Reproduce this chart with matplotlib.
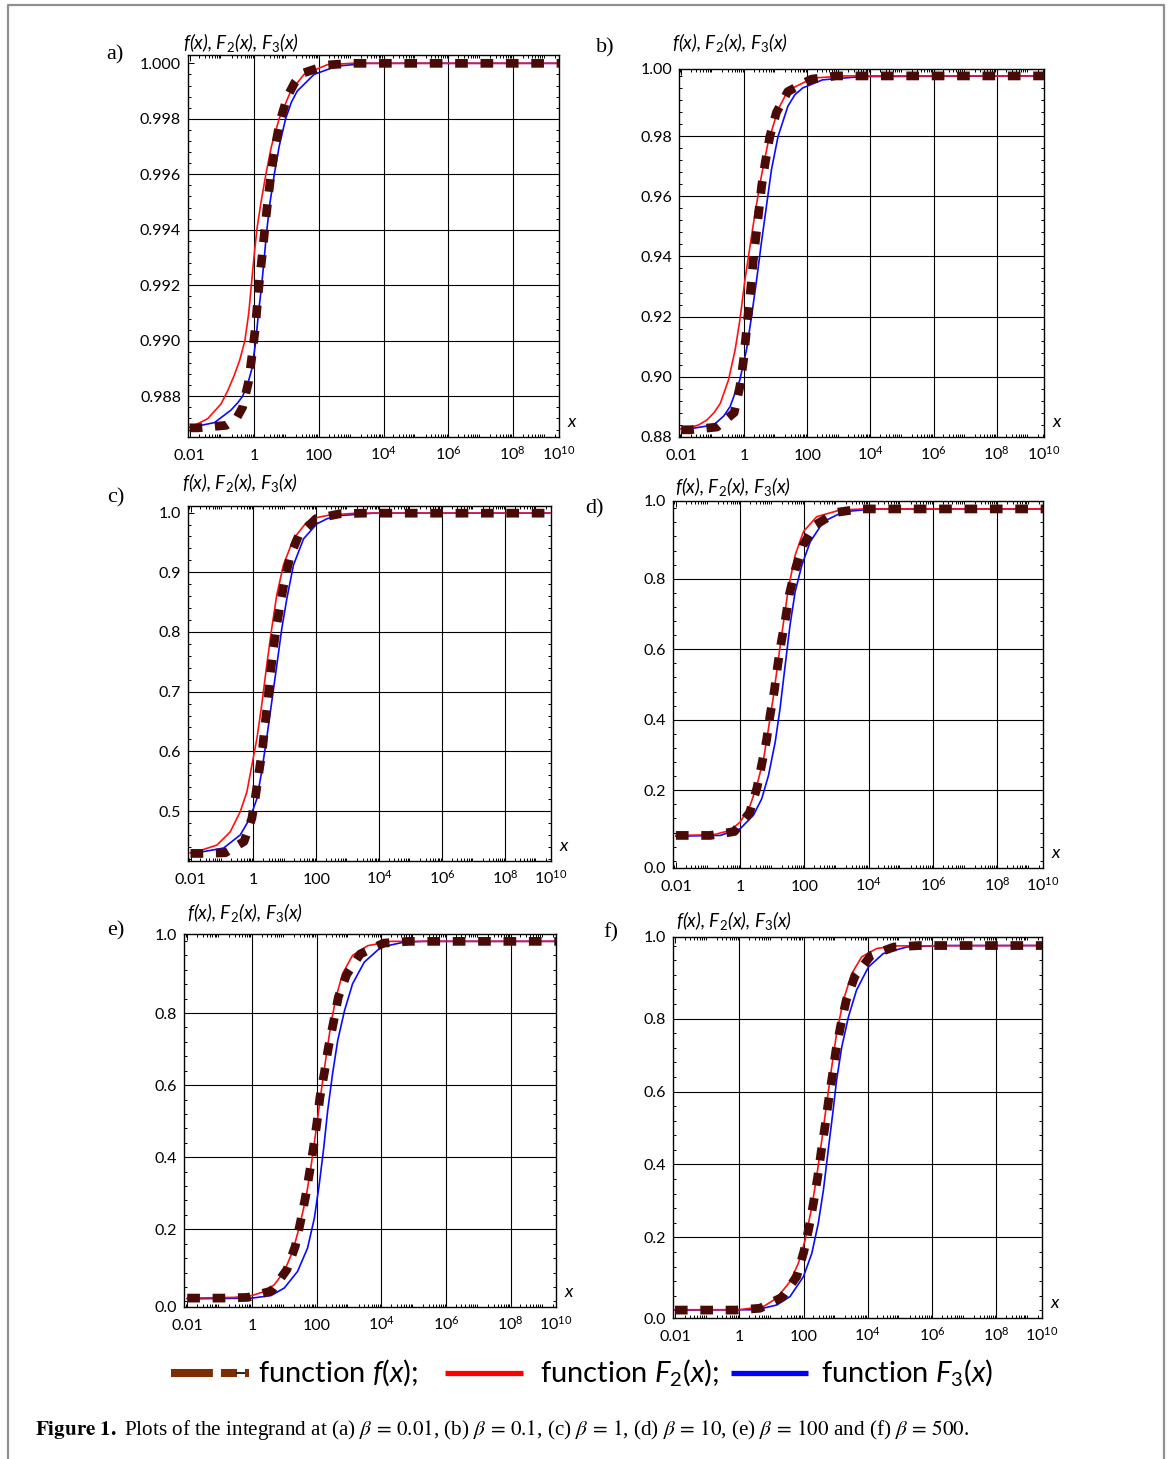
import numpy as np
import matplotlib.pyplot as plt
from matplotlib.lines import Line2D
from matplotlib.ticker import LogLocator, MultipleLocator, NullFormatter

plt.rcParams['font.family'] = ['Lato', 'DejaVu Sans']
plt.rcParams['mathtext.fontset'] = 'custom'
plt.rcParams['mathtext.rm'] = 'Lato'
plt.rcParams['mathtext.it'] = 'Lato:italic'
plt.rcParams['mathtext.bf'] = 'Lato:bold'

# ---- data (x given as log10 x) ----
# (a) beta = 0.01
a_F2_lx = [-2.0, -1.85, -1.44, -1.03, -0.82, -0.62, -0.45, -0.29, -0.17, -0.09, -0.01, 0.08, 0.21, 0.36,
           0.53, 0.77, 1.13, 1.54, 2.26, 3.0, 9.43]
a_F2 = [0.98690, 0.98695, 0.98719, 0.98772, 0.98820, 0.98875, 0.98930, 0.99000, 0.99100, 0.99200, 0.99300,
        0.99400, 0.99500, 0.99600, 0.99700, 0.99800, 0.99900, 0.99960, 0.99995, 1.0, 1.0]
a_F3_lx = [-2.0, -1.85, -1.23, -0.72, -0.50, -0.36, -0.20, -0.07, 0.05, 0.13, 0.23, 0.31, 0.39, 0.49, 0.62,
           0.77, 0.97, 1.15, 1.33, 1.85, 2.56, 3.5, 9.43]
a_F3 = [0.98688, 0.98690, 0.98705, 0.98750, 0.98778, 0.98800, 0.98845, 0.98900, 0.99000, 0.99100, 0.99200,
        0.99300, 0.99400, 0.99500, 0.99600, 0.99700, 0.99800, 0.99860, 0.99900, 0.99960, 0.99990, 1.0, 1.0]
a_f_lx = [-2.0, -1.74, -0.87, -0.55, -0.36, -0.18, -0.07, 0.03, 0.10, 0.17, 0.26, 0.34, 0.43, 0.53, 0.65,
          0.80, 1.03, 1.25, 1.49, 2.26, 3.0, 9.43]
a_f = [0.98686, 0.98686, 0.98695, 0.98720, 0.98760, 0.98850, 0.98946, 0.99042, 0.99138, 0.99228, 0.99324,
       0.99419, 0.99515, 0.99611, 0.99701, 0.99793, 0.99881, 0.99930, 0.99964, 0.99994, 1.0, 1.0]

# (b) beta = 0.1
b_F2_lx = [-2.0, -1.81, -1.45, -1.18, -0.95, -0.76, -0.50, -0.29, -0.14, 0.02, 0.18, 0.34, 0.54, 0.75,
           1.07, 1.30, 1.54, 2.17, 3.21, 9.5]
b_F2 = [0.8828, 0.8829, 0.8840, 0.8857, 0.8882, 0.8912, 0.8990, 0.9090, 0.9189, 0.9322, 0.9433, 0.9544,
        0.9666, 0.9777, 0.9888, 0.9935, 0.9960, 0.9993, 1.0, 1.0]
b_F3_lx = [-2.0, -1.81, -0.97, -0.65, -0.45, -0.14, 0.07, 0.23, 0.39, 0.54, 0.70, 0.86, 1.07, 1.38, 1.60,
           1.85, 2.48, 3.74, 9.5]
b_F3 = [0.8826, 0.8826, 0.8840, 0.8870, 0.8901, 0.8990, 0.9090, 0.9201, 0.9322, 0.9444, 0.9566, 0.9688,
        0.9799, 0.9899, 0.9937, 0.9960, 0.9987, 0.9998, 1.0]
b_f_lx = [-2.0, -1.71, -0.87, -0.32, -0.14, -0.03, 0.05, 0.13, 0.21, 0.28, 0.37, 0.46, 0.55, 0.67, 0.81,
          1.02, 1.38, 2.12, 2.90, 9.5]
b_f = [0.8824, 0.8824, 0.8833, 0.8881, 0.8968, 0.9051, 0.9134, 0.9217, 0.9300, 0.9383, 0.9467, 0.9550,
       0.9635, 0.9716, 0.9799, 0.9879, 0.9948, 0.9989, 1.0, 1.0]

# (c) beta = 1
c_F2_lx = [-2.0, -1.80, -1.16, -0.74, -0.42, -0.21, -0.05, 0.11, 0.26, 0.42, 0.58, 0.74, 0.95, 1.27, 1.69,
           2.05, 2.43, 3.28, 9.45]
c_F2 = [0.430, 0.432, 0.443, 0.465, 0.499, 0.532, 0.577, 0.622, 0.677, 0.744, 0.806, 0.862, 0.912, 0.956,
        0.984, 0.992, 0.996, 0.999, 0.999]
c_F3_lx = [-2.0, -1.80, -0.95, -0.42, -0.11, 0.11, 0.26, 0.42, 0.58, 0.74, 0.90, 1.06, 1.27, 1.59, 2.01,
           2.35, 2.75, 3.81, 9.45]
c_F3 = [0.430, 0.430, 0.438, 0.460, 0.488, 0.521, 0.566, 0.622, 0.683, 0.744, 0.806, 0.856, 0.912, 0.956,
        0.981, 0.990, 0.995, 0.999, 0.999]
c_f_lx = [-2.0, -1.69, -0.90, -0.30, -0.05, 0.07, 0.18, 0.29, 0.37, 0.46, 0.53, 0.62, 0.72, 0.85, 0.99,
          1.16, 1.43, 1.99, 2.75, 3.49, 9.45]
c_f = [0.429, 0.429, 0.430, 0.449, 0.488, 0.527, 0.567, 0.606, 0.647, 0.686, 0.727, 0.767, 0.806, 0.846,
       0.887, 0.926, 0.961, 0.990, 0.998, 0.999, 0.999]

# (d) beta = 10
d_F2_lx = [-2.0, -1.87, -0.83, -0.31, 0.0, 0.31, 0.52, 0.73, 0.88, 1.04, 1.19, 1.35, 1.50, 1.71, 1.97,
           2.38, 3.11, 3.83, 9.42]
d_F2 = [0.072, 0.072, 0.074, 0.086, 0.110, 0.157, 0.214, 0.290, 0.375, 0.470, 0.574, 0.678, 0.773, 0.867,
        0.934, 0.976, 0.995, 0.998, 0.998]
d_F3_lx = [-2.0, -1.87, -0.62, 0.0, 0.41, 0.67, 0.88, 1.09, 1.24, 1.40, 1.55, 1.71, 1.92, 2.18, 2.59, 3.21,
           4.15, 9.42]
d_F3 = [0.070, 0.070, 0.072, 0.091, 0.129, 0.176, 0.242, 0.337, 0.432, 0.555, 0.668, 0.763, 0.839, 0.905,
        0.962, 0.990, 0.998, 0.998]
d_f_lx = [-2.0, -1.76, -0.93, -0.18, 0.29, 0.52, 0.67, 0.82, 0.93, 1.06, 1.16, 1.27, 1.41, 1.53, 1.71,
          1.95, 2.33, 2.98, 3.73, 9.42]
d_f = [0.072, 0.072, 0.072, 0.083, 0.136, 0.206, 0.273, 0.342, 0.413, 0.481, 0.550, 0.616, 0.687, 0.756,
       0.825, 0.894, 0.952, 0.988, 0.998, 0.998]

# (e) beta = 100
e_F2_lx = [-2.0, -1.89, -0.55, 0.0, 0.38, 0.69, 1.0, 1.26, 1.46, 1.67, 1.82, 1.98, 2.13, 2.29, 2.44, 2.60,
           2.80, 3.11, 3.58, 4.30, 9.4]
e_F2 = [0.009, 0.009, 0.011, 0.016, 0.027, 0.046, 0.083, 0.139, 0.204, 0.287, 0.370, 0.473, 0.575, 0.677,
        0.769, 0.844, 0.909, 0.960, 0.987, 0.999, 0.999]
e_F3_lx = [-2.0, -1.89, 0.0, 0.59, 1.0, 1.41, 1.72, 1.93, 2.08, 2.22, 2.34, 2.49, 2.65, 2.86, 3.11, 3.47,
           3.99, 4.71, 5.33, 9.4]
e_F3 = [0.007, 0.007, 0.009, 0.016, 0.037, 0.083, 0.148, 0.231, 0.324, 0.426, 0.528, 0.630, 0.723, 0.806,
        0.881, 0.941, 0.983, 0.997, 0.999, 0.999]
e_f_lx = [-2.0, -1.73, -0.91, -0.13, 0.61, 1.08, 1.34, 1.50, 1.65, 1.78, 1.90, 2.01, 2.10, 2.24, 2.36,
          2.52, 2.67, 2.93, 3.35, 4.07, 4.84, 9.4]
e_f = [0.009, 0.009, 0.009, 0.011, 0.029, 0.088, 0.153, 0.220, 0.287, 0.357, 0.426, 0.496, 0.565, 0.635,
       0.703, 0.774, 0.844, 0.907, 0.964, 0.994, 0.999, 0.999]

# (f) beta = 500
f_F2_lx = [-2.0, -1.83, 0.0, 0.76, 1.17, 1.58, 1.84, 2.05, 2.26, 2.41, 2.57, 2.72, 2.88, 3.03, 3.24,
           3.50, 3.81, 4.28, 4.90, 9.42]
f_F2 = [0.002, 0.002, 0.002, 0.011, 0.034, 0.079, 0.129, 0.193, 0.284, 0.367, 0.467, 0.567, 0.668, 0.759,
        0.850, 0.923, 0.969, 0.992, 0.999, 1.0]
f_F3_lx = [-2.0, -1.83, 0.55, 1.17, 1.58, 2.0, 2.26, 2.46, 2.62, 2.77, 2.91, 3.03, 3.19, 3.40, 3.65, 4.02,
           4.48, 5.21, 6.24, 9.42]
f_F3 = [0.001, 0.001, 0.002, 0.015, 0.038, 0.093, 0.157, 0.239, 0.330, 0.440, 0.540, 0.631, 0.722, 0.805,
        0.878, 0.941, 0.978, 0.996, 1.0, 1.0]
f_f_lx = [-2.0, -1.70, -0.90, -0.12, 0.65, 1.33, 1.79, 2.01, 2.17, 2.31, 2.44, 2.55, 2.67, 2.78, 2.90,
          3.01, 3.16, 3.33, 3.60, 4.10, 4.81, 5.60, 9.42]
f_f = [0.001, 0.001, 0.001, 0.001, 0.006, 0.036, 0.093, 0.161, 0.227, 0.295, 0.365, 0.435, 0.505, 0.575,
       0.645, 0.713, 0.782, 0.850, 0.916, 0.973, 0.996, 1.0, 1.0]

x_tick_labels = ['0.01', '1', '100', '10$^{4}$', '10$^{6}$', '10$^{8}$', '10$^{10}$']
panel_letters = ['a)', 'b)', 'c)', 'd)', 'e)', 'f)']
betas = ['0.01', '0.1', '1', '10', '100', '500']

curves = [
    (a_f_lx, a_f, a_F2_lx, a_F2, a_F3_lx, a_F3),
    (b_f_lx, b_f, b_F2_lx, b_F2, b_F3_lx, b_F3),
    (c_f_lx, c_f, c_F2_lx, c_F2, c_F3_lx, c_F3),
    (d_f_lx, d_f, d_F2_lx, d_F2, d_F3_lx, d_F3),
    (e_f_lx, e_f, e_F2_lx, e_F2, e_F3_lx, e_F3),
    (f_f_lx, f_f, f_F2_lx, f_F2, f_F3_lx, f_F3),
]

# ---- layout (pixels from top-left of the 1170x1459 image) ----
W, H = 1170, 1459
fig = plt.figure(figsize=(W / 100, H / 100), dpi=100)


def fx(x):
    return x / W


def fy(y):
    return 1 - y / H


boxes = [(188, 55, 559, 437), (679, 69, 1044, 437), (188, 506, 551, 861),
         (673, 501, 1043, 868), (184, 934, 556, 1307), (673, 937, 1042, 1318)]
xlims = [(-2.05, 9.43), (-2.07, 9.5), (-2.08, 9.45), (-2.09, 9.42), (-2.1, 9.4), (-2.06, 9.42)]
ylims = [(0.98653, 1.0003), (0.8800, 1.0023), (0.4163, 1.011),
         (-0.0204, 1.0205), (-0.0157, 1.0194), (-0.0207, 1.0234)]
yticks = [
    ([0.988, 0.990, 0.992, 0.994, 0.996, 0.998, 1.000],
     ['0.988', '0.990', '0.992', '0.994', '0.996', '0.998', '1.000']),
    ([0.88, 0.90, 0.92, 0.94, 0.96, 0.98, 1.0023],
     ['0.88', '0.90', '0.92', '0.94', '0.96', '0.98', '1.00']),
    ([0.5, 0.6, 0.7, 0.8, 0.9, 1.0], ['0.5', '0.6', '0.7', '0.8', '0.9', '1.0']),
    ([-0.0204, 0.2, 0.4, 0.6, 0.8, 1.0205], ['0.0', '0.2', '0.4', '0.6', '0.8', '1.0']),
    ([-0.0157, 0.2, 0.4, 0.6, 0.8, 1.0194], ['0.0', '0.2', '0.4', '0.6', '0.8', '1.0']),
    ([-0.0207, 0.2, 0.4, 0.6, 0.8, 1.0234], ['0.0', '0.2', '0.4', '0.6', '0.8', '1.0']),
]
ygrids = [[0.988, 0.990, 0.992, 0.994, 0.996, 0.998], [0.90, 0.92, 0.94, 0.96, 0.98],
          [0.5, 0.6, 0.7, 0.8, 0.9], [0.2, 0.4, 0.6, 0.8], [0.2, 0.4, 0.6, 0.8], [0.2, 0.4, 0.6, 0.8]]
yminor = [0.0004, 0.004, 0.02, 0.04, 0.04, 0.04]
title_pos = [(183, 42), (672, 43), (182, 483), (675, 486), (187, 912), (676, 920)]
letter_pos = [(115, 55), (605, 48), (116, 498), (595, 509), (116, 931), (611, 933)]

f_color = '#4a0a06'

for i, (x0, y0, x1, y1) in enumerate(boxes):
    ax = fig.add_axes([fx(x0), fy(y1), fx(x1) - fx(x0), (y1 - y0) / H])
    flx, fv, f2lx, f2v, f3lx, f3v = curves[i]
    ax.set_xscale('log')
    ax.plot(10 ** np.array(f3lx), f3v, color='#0a0aff', lw=1.2, zorder=3)
    ax.plot(10 ** np.array(f2lx), f2v, color='#ff1010', lw=1.2, zorder=3)
    ax.plot(10 ** np.array(flx), fv, color=f_color, lw=6.3, dashes=(1.45, 1.45),
            dash_capstyle='butt', zorder=4)

    lo, hi = 10 ** xlims[i][0], 10 ** xlims[i][1]
    ax.set_xlim(lo, hi)
    ax.set_ylim(*ylims[i])
    for gx in [1, 1e2, 1e4, 1e6, 1e8]:
        ax.axvline(gx, color='black', lw=0.8, zorder=1)
    for gy in ygrids[i]:
        ax.axhline(gy, color='black', lw=0.8, zorder=1)

    ax.set_xticks([0.01, 1, 1e2, 1e4, 1e6, 1e8, hi], x_tick_labels)
    ax.xaxis.set_minor_locator(LogLocator(base=10, subs=np.arange(2, 10), numticks=200))
    ax.xaxis.set_minor_formatter(NullFormatter())
    ax.set_yticks(yticks[i][0], yticks[i][1])
    ax.yaxis.set_minor_locator(MultipleLocator(yminor[i]))
    ax.tick_params(which='both', direction='in', top=True, right=True, width=0.7)
    ax.tick_params(which='major', length=4, labelsize=11.5)
    ax.tick_params(which='minor', length=2)
    ax.tick_params(axis='y', pad=5)
    ax.tick_params(axis='x', pad=16.5)
    for t in ax.xaxis.get_major_ticks():
        t.label1.set_verticalalignment('baseline')
    for s in ax.spines.values():
        s.set_linewidth(1.0)

    ax.annotate('x', xy=(1, 0), xycoords='axes fraction', xytext=(9, 5),
                textcoords='offset points', fontsize=13, fontstyle='italic',
                ha='center', va='bottom')

    tx, ty = title_pos[i]
    fig.text(fx(tx), fy(ty), r'f(x), F$_\mathit{2}$(x), F$_\mathit{3}$(x)',
             fontsize=13.5, fontstyle='italic', ha='left', va='center')
    lx_, ly_ = letter_pos[i]
    fig.text(fx(lx_), fy(ly_), panel_letters[i], family='Liberation Serif',
             fontsize=16, ha='center', va='center')

# ---- legend row ----
ly = 1373
fig.add_artist(Line2D([fx(171), fx(237)], [fy(ly), fy(ly)], color='#7d2c04', lw=5.8,
                      dashes=(5.2, 1.0), dash_capstyle='butt'))
fig.add_artist(Line2D([fx(237), fx(245)], [fy(ly), fy(ly)], color='black', lw=1.2))
fig.add_artist(Line2D([fx(245), fx(249)], [fy(ly), fy(ly)], color='#7d2c04', lw=5.8,
                      solid_capstyle='butt'))
fig.add_artist(Line2D([fx(445), fx(523)], [fy(ly), fy(ly)], color='#ff0000', lw=3.8,
                      solid_capstyle='butt'))
fig.add_artist(Line2D([fx(731), fx(808)], [fy(ly), fy(ly)], color='#0000ff', lw=3.8,
                      solid_capstyle='butt'))
leg_fs = 21
fig.text(fx(258), fy(ly), r'function $\mathit{f(x)}$;', fontsize=leg_fs, ha='left', va='center')
fig.text(fx(540), fy(ly), r'function $\mathit{F_2(x)}$;', fontsize=leg_fs, ha='left', va='center')
fig.text(fx(821), fy(ly), r'function $\mathit{F_3(x)}$', fontsize=leg_fs, ha='left', va='center')

# ---- caption ----
caption = (r'$\mathbf{Figure\ 1.}$ Plots of the integrand at '
           + ', '.join('(%s) $\\beta\\,=\\,%s$' % (p[0], b) for p, b in zip(panel_letters[:5], betas[:5]))
           + ' and (f) $\\beta\\,=\\,%s$.' % betas[5])
fig.text(fx(35), fy(1430), caption, family='Liberation Serif', math_fontfamily='stix',
         fontsize=15.2, ha='left', va='center')

# ---- outer frame ----
frame_c = '#8f8f8f'
fig.add_artist(Line2D([fx(8), fx(8), fx(1164), fx(1164)], [0, fy(5), fy(5), 0],
                      color=frame_c, lw=1.6))

fig.savefig('out.png', dpi=100)
